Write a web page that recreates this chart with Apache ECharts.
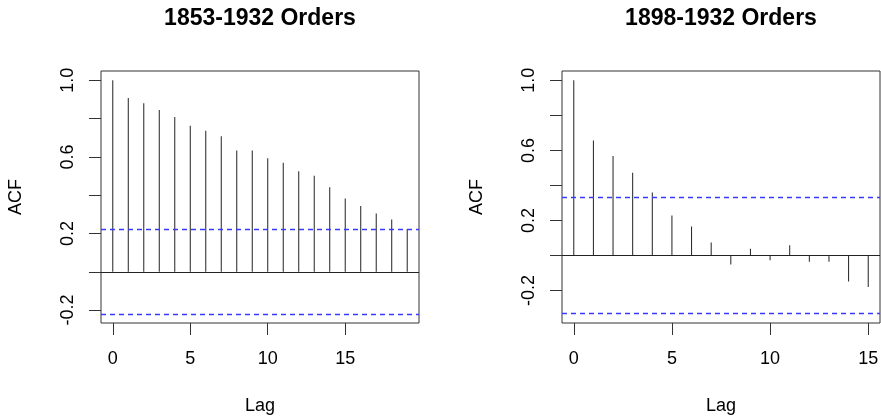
<!DOCTYPE html>
<html>
<head>
<meta charset="utf-8">
<script src="https://cdn.jsdelivr.net/npm/echarts@6/dist/echarts.min.js"></script>
<style>
  html, body { margin: 0; padding: 0; background: #fff; }
  #main { width: 881px; height: 417px; }
</style>
</head>
<body>
<div id="main"></div>
<script>
// ACF values
const lagsA = [0, 1, 2, 3, 4, 5, 6, 7, 8, 9, 10, 11, 12, 13, 14, 15, 16, 17, 18, 19];
const acfA = [1.0, 0.908, 0.880, 0.845, 0.809, 0.763, 0.737, 0.708, 0.633, 0.633,
  0.593, 0.570, 0.525, 0.501, 0.442, 0.383, 0.344, 0.304, 0.273, 0.223];
const lagsB = [0, 1, 2, 3, 4, 5, 6, 7, 8, 9, 10, 11, 12, 13, 14, 15];
const acfB = [1.0, 0.656, 0.568, 0.473, 0.359, 0.228, 0.165, 0.074, -0.051, 0.038,
  -0.027, 0.059, -0.036, -0.036, -0.148, -0.179];
const climA = 0.219;  // 1.96 / sqrt(80)
const climB = 0.331;  // 1.96 / sqrt(35)

const titles = ['1853-1932 Orders', '1898-1932 Orders'];
const xTicks = [0, 5, 10, 15];
const yTicks = [-0.2, 0, 0.2, 0.4, 0.6, 0.8, 1.0];
const yLabels = [-0.2, 0.2, 0.6, 1.0];

const font = 'Liberation Sans, Arial, sans-serif';
const ink = '#333';
const blue = '#3a3aff';

const chart = echarts.init(document.getElementById('main'), null, { renderer: 'canvas' });

function xAxisFor(idx, min, max) {
  return {
    type: 'value', gridIndex: idx, min: min, max: max,
    name: 'Lag', nameLocation: 'middle', nameGap: 74,
    nameTextStyle: { fontFamily: font, fontSize: 18, color: '#000' },
    axisLine: { show: false, onZero: false },
    splitLine: { show: false },
    axisTick: { show: true, inside: false, length: 12, customValues: xTicks, lineStyle: { color: ink } },
    axisLabel: { customValues: xTicks, margin: 27, fontFamily: font, fontSize: 18, color: '#000' }
  };
}

function yAxisFor(idx, min, max) {
  return {
    type: 'value', gridIndex: idx, min: min, max: max,
    name: 'ACF', nameLocation: 'middle', nameGap: 76,
    nameTextStyle: { fontFamily: font, fontSize: 18, color: '#000' },
    axisLine: { show: false, onZero: false },
    splitLine: { show: false },
    axisTick: { show: true, inside: false, length: 12, customValues: yTicks, lineStyle: { color: ink } },
    axisLabel: {
      customValues: yLabels, rotate: 90, margin: 24,
      fontFamily: font, fontSize: 18, color: '#000',
      formatter: v => v.toFixed(1)
    }
  };
}

function acfSeries(idx, lags, vals) {
  return {
    type: 'bar', xAxisIndex: idx, yAxisIndex: idx,
    data: lags.map((l, i) => [l, vals[i]]),
    barWidth: 1,
    itemStyle: { color: '#222' },
    silent: true,
    markLine: {
      silent: true, symbol: 'none', label: { show: false },
      lineStyle: { color: '#222', type: 'solid', width: 1 },
      data: [{ yAxis: 0 }]
    }
  };
}

function climSeries(idx, clim) {
  return {
    type: 'line', xAxisIndex: idx, yAxisIndex: idx,
    data: [],
    color: blue,
    silent: true,
    markLine: {
      silent: true, symbol: 'none', label: { show: false },
      lineStyle: { color: blue, opacity: 1, type: [5, 4], width: 1.3 },
      data: [{ yAxis: clim }, { yAxis: -clim }]
    }
  };
}

chart.setOption({
  animation: false,
  backgroundColor: '#fff',
  title: [
    { text: titles[0], left: 260, top: 7, padding: 0, textAlign: 'center',
      textStyle: { fontFamily: font, fontSize: 23, fontWeight: 'bold', color: '#000' } },
    { text: titles[1], left: 721, top: 7, padding: 0, textAlign: 'center',
      textStyle: { fontFamily: font, fontSize: 23, fontWeight: 'bold', color: '#000' } }
  ],
  grid: [
    { left: 101, top: 71, width: 318, height: 252, show: true, borderColor: ink, borderWidth: 1,
      containLabel: false, outerBoundsMode: 'none' },
    { left: 562, top: 71, width: 318, height: 252, show: true, borderColor: ink, borderWidth: 1,
      containLabel: false, outerBoundsMode: 'none' }
  ],
  xAxis: [xAxisFor(0, -0.76, 19.76), xAxisFor(1, -0.6, 15.6)],
  yAxis: [yAxisFor(0, -0.2676, 1.0488), yAxisFor(1, -0.385, 1.053)],
  series: [
    acfSeries(0, lagsA, acfA), climSeries(0, climA),
    acfSeries(1, lagsB, acfB), climSeries(1, climB)
  ]
});
</script>
</body>
</html>
